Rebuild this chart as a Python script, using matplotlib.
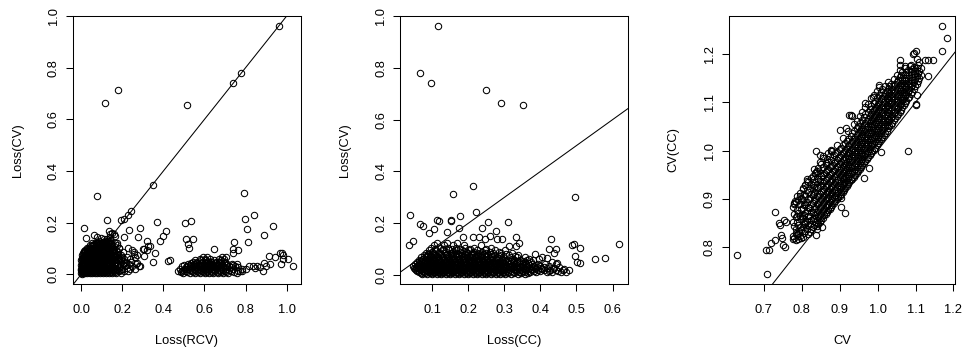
import matplotlib
matplotlib.use('Agg')
from matplotlib import pyplot as plt
from matplotlib.ticker import FormatStrFormatter

plt.rcParams['font.family'] = ['Liberation Sans', 'DejaVu Sans']

# ---------------- Panel 1: Loss(RCV) vs Loss(CV) ----------------
# scattered points
rcv_loss = [0.964, 0.777, 0.739, 0.179, 0.117, 0.513, 0.350, 0.077, 0.795, 0.124, 0.194, 0.210,
            0.228, 0.244, 0.016, 0.371, 0.503, 0.533, 0.796, 0.839, 0.805, 0.810, 0.888, 0.932,
            0.412, 0.397, 0.386, 0.285, 0.233, 0.023, 0.064, 0.075, 0.134, 0.277, 0.208, 0.511,
            0.546, 0.518, 0.526, 0.337, 0.324, 0.320, 0.308, 0.357, 0.349, 0.423, 0.433, 0.744,
            0.647, 0.741, 0.762, 0.739, 0.914, 0.943, 0.969, 0.977, 0.982, 1.005, 0.980, 0.974,
            1.029, 0.891, 0.883, 0.858, 0.918, 0.900, 0.764, 0.785, 0.816, 0.834, 0.301, 0.320,
            0.308, 0.288, 0.272, 0.264, 0.256, 0.003, 0.760, 0.800, 0.845, 0.870, 0.158, 0.165,
            0.172, 0.182, 0.150, 0.141]
cv_loss_a = [0.963, 0.780, 0.741, 0.713, 0.664, 0.657, 0.345, 0.303, 0.314, 0.209, 0.210, 0.213,
             0.229, 0.246, 0.179, 0.204, 0.197, 0.205, 0.213, 0.229, 0.175, 0.125, 0.153, 0.188,
             0.168, 0.148, 0.130, 0.179, 0.171, 0.142, 0.151, 0.146, 0.168, 0.144, 0.146, 0.138,
             0.135, 0.117, 0.103, 0.110, 0.110, 0.129, 0.098, 0.081, 0.049, 0.052, 0.054, 0.125,
             0.099, 0.097, 0.094, 0.081, 0.070, 0.067, 0.084, 0.084, 0.073, 0.061, 0.061, 0.039,
             0.032, 0.045, 0.013, 0.032, 0.041, 0.032, 0.013, 0.013, 0.032, 0.032, 0.099, 0.094,
             0.071, 0.032, 0.045, 0.067, 0.077, 0.001, 0.040, 0.020, 0.025, 0.030, 0.158, 0.150,
             0.121, 0.102, 0.160, 0.155]
# dense clusters, read row by row (one Loss(CV) level, many Loss(RCV) values)
p1_row_y = [0.004, 0.013, 0.022, 0.031, 0.040, 0.049, 0.058, 0.067, 0.076, 0.085, 0.094,
            0.103, 0.112, 0.121, 0.131, 0.141,
            0.008, 0.017, 0.026, 0.035, 0.045, 0.054, 0.063, 0.072, 0.081, 0.090, 0.099,
            0.108, 0.117, 0.126, 0.136,
            0.004, 0.013, 0.022, 0.031, 0.040, 0.049, 0.058, 0.067,
            0.009, 0.018, 0.027, 0.036, 0.045, 0.054]
p1_row_x = [
    [0.0, 0.008, 0.017, 0.028, 0.041, 0.053, 0.066, 0.079, 0.093, 0.108, 0.121, 0.137, 0.152, 0.171, 0.193],
    [0.004, 0.013, 0.024, 0.036, 0.049, 0.061, 0.074, 0.088, 0.101, 0.115, 0.129, 0.144, 0.162, 0.183, 0.207, 0.226],
    [0.0, 0.009, 0.019, 0.031, 0.044, 0.057, 0.069, 0.083, 0.097, 0.111, 0.124, 0.139, 0.156, 0.176, 0.199, 0.238, 0.262],
    [0.006, 0.015, 0.026, 0.038, 0.051, 0.063, 0.077, 0.091, 0.104, 0.118, 0.133, 0.148, 0.167, 0.188, 0.214, 0.249, 0.281],
    [0.002, 0.011, 0.022, 0.034, 0.046, 0.059, 0.072, 0.086, 0.099, 0.113, 0.127, 0.142, 0.159, 0.181, 0.203, 0.231, 0.268],
    [0.007, 0.018, 0.030, 0.042, 0.055, 0.068, 0.081, 0.095, 0.108, 0.122, 0.136, 0.151, 0.169, 0.192, 0.219, 0.244],
    [0.003, 0.014, 0.026, 0.039, 0.052, 0.064, 0.078, 0.091, 0.105, 0.119, 0.133, 0.147, 0.163, 0.184, 0.208, 0.236],
    [0.009, 0.021, 0.034, 0.047, 0.060, 0.073, 0.087, 0.101, 0.114, 0.128, 0.143, 0.158, 0.177, 0.199, 0.223],
    [0.004, 0.017, 0.030, 0.043, 0.056, 0.070, 0.084, 0.097, 0.111, 0.125, 0.139, 0.155, 0.172, 0.196, 0.271],
    [0.012, 0.026, 0.040, 0.053, 0.067, 0.081, 0.094, 0.108, 0.122, 0.137, 0.153, 0.178, 0.206, 0.258],
    [0.020, 0.036, 0.050, 0.064, 0.078, 0.092, 0.106, 0.120, 0.134, 0.149, 0.168, 0.247],
    [0.028, 0.047, 0.062, 0.076, 0.090, 0.104, 0.118, 0.133, 0.151, 0.186, 0.229],
    [0.041, 0.059, 0.074, 0.088, 0.103, 0.117, 0.131, 0.148, 0.172],
    [0.055, 0.072, 0.087, 0.101, 0.116, 0.130, 0.144, 0.163],
    [0.085, 0.115, 0.129, 0.142],
    [0.095, 0.138],
    [0.002, 0.012, 0.022, 0.033, 0.046, 0.058, 0.071, 0.085, 0.099, 0.113, 0.128, 0.145, 0.164],
    [0.0, 0.010, 0.020, 0.031, 0.043, 0.055, 0.068, 0.081, 0.094, 0.108, 0.122, 0.137, 0.153, 0.172, 0.194],
    [0.004, 0.014, 0.025, 0.037, 0.049, 0.062, 0.075, 0.088, 0.102, 0.116, 0.131, 0.146, 0.163, 0.224],
    [0.001, 0.010, 0.021, 0.032, 0.045, 0.057, 0.070, 0.083, 0.097, 0.111, 0.125, 0.141, 0.158, 0.178, 0.205],
    [0.005, 0.016, 0.027, 0.039, 0.052, 0.065, 0.078, 0.092, 0.106, 0.120, 0.134, 0.149, 0.166, 0.210],
    [0.001, 0.011, 0.022, 0.034, 0.047, 0.060, 0.073, 0.087, 0.101, 0.115, 0.129, 0.144, 0.160, 0.196],
    [0.006, 0.017, 0.029, 0.042, 0.055, 0.068, 0.082, 0.096, 0.109, 0.123, 0.138, 0.152, 0.185],
    [0.012, 0.024, 0.037, 0.050, 0.064, 0.077, 0.091, 0.105, 0.118, 0.132, 0.147, 0.165],
    [0.008, 0.021, 0.034, 0.047, 0.061, 0.074, 0.088, 0.102, 0.116, 0.130, 0.145, 0.160],
    [0.016, 0.030, 0.044, 0.058, 0.071, 0.085, 0.099, 0.113, 0.127, 0.142, 0.158],
    [0.026, 0.041, 0.056, 0.070, 0.084, 0.098, 0.112, 0.127, 0.141],
    [0.050, 0.066, 0.081, 0.096, 0.110, 0.125, 0.140, 0.160],
    [0.064, 0.079, 0.094, 0.109, 0.123, 0.138],
    [0.077, 0.108, 0.122, 0.136],
    [0.110, 0.126],
    [0.497, 0.528, 0.556, 0.579, 0.601, 0.622, 0.641, 0.664, 0.688, 0.716, 0.758],
    [0.472, 0.489, 0.512, 0.538, 0.566, 0.588, 0.611, 0.632, 0.653, 0.675, 0.699, 0.728, 0.772],
    [0.481, 0.503, 0.523, 0.547, 0.571, 0.594, 0.617, 0.637, 0.658, 0.681, 0.706, 0.739, 0.781],
    [0.493, 0.514, 0.533, 0.558, 0.583, 0.606, 0.627, 0.646, 0.668, 0.692, 0.719, 0.749],
    [0.521, 0.548, 0.574, 0.597, 0.618, 0.639, 0.661, 0.684, 0.711, 0.733],
    [0.542, 0.563, 0.589, 0.612, 0.634, 0.655, 0.678, 0.702],
    [0.576, 0.602, 0.627, 0.671, 0.694],
    [0.592, 0.613, 0.686, 0.703],
    [0.485, 0.516, 0.545, 0.569, 0.592, 0.614, 0.636, 0.659, 0.681, 0.705, 0.742],
    [0.497, 0.528, 0.553, 0.578, 0.601, 0.624, 0.646, 0.669, 0.692, 0.721],
    [0.509, 0.538, 0.562, 0.587, 0.611, 0.632, 0.652, 0.675, 0.698, 0.731, 0.762],
    [0.502, 0.529, 0.553, 0.577, 0.599, 0.621, 0.643, 0.666, 0.704, 0.740],
    [0.536, 0.561, 0.584, 0.607, 0.629, 0.651, 0.673, 0.697],
    [0.553, 0.583, 0.606, 0.646, 0.683],
]

# ---------------- Panel 2: Loss(CC) vs Loss(CV) ----------------
cc_loss = [0.116, 0.065, 0.098, 0.249, 0.290, 0.352, 0.214, 0.158, 0.497, 0.039, 0.222, 0.178,
           0.112, 0.118, 0.151, 0.152, 0.066, 0.074, 0.175, 0.310, 0.256, 0.237, 0.278, 0.106,
           0.091, 0.140, 0.035, 0.046, 0.186, 0.212, 0.230, 0.246, 0.261, 0.280, 0.294, 0.333,
           0.340, 0.333, 0.313, 0.488, 0.492, 0.510, 0.497, 0.501, 0.510, 0.552, 0.578, 0.619,
           0.430, 0.423, 0.443, 0.437, 0.418, 0.478, 0.466, 0.452, 0.447, 0.405, 0.395, 0.386]
cv_loss_b = [0.963, 0.780, 0.741, 0.713, 0.664, 0.656, 0.344, 0.313, 0.303, 0.232, 0.245, 0.229,
             0.213, 0.209, 0.213, 0.209, 0.197, 0.191, 0.180, 0.206, 0.205, 0.180, 0.171, 0.177,
             0.164, 0.168, 0.116, 0.133, 0.146, 0.146, 0.146, 0.138, 0.151, 0.139, 0.139, 0.148,
             0.125, 0.112, 0.112, 0.116, 0.122, 0.103, 0.075, 0.052, 0.045, 0.062, 0.067, 0.122,
             0.138, 0.100, 0.099, 0.084, 0.065, 0.019, 0.024, 0.030, 0.048, 0.070, 0.064, 0.080]
p2_row_y = [0.004, 0.012, 0.020, 0.028, 0.036, 0.044, 0.052, 0.060, 0.069, 0.078, 0.087,
            0.096, 0.105, 0.115, 0.125,
            0.008, 0.016, 0.024, 0.032, 0.040, 0.048, 0.056, 0.064, 0.073, 0.082, 0.091, 0.100]
p2_row_x = [
    [0.072, 0.086, 0.099, 0.112, 0.124, 0.137, 0.149, 0.162, 0.174, 0.187, 0.199, 0.212, 0.224, 0.237, 0.249,
     0.262, 0.276, 0.289, 0.303, 0.318, 0.337, 0.358],
    [0.063, 0.078, 0.091, 0.104, 0.117, 0.129, 0.142, 0.155, 0.167, 0.180, 0.193, 0.205, 0.218, 0.231, 0.243,
     0.256, 0.269, 0.283, 0.296, 0.311, 0.326, 0.342, 0.357, 0.372, 0.389, 0.418, 0.431, 0.456, 0.472],
    [0.055, 0.068, 0.082, 0.095, 0.108, 0.121, 0.133, 0.146, 0.159, 0.171, 0.184, 0.197, 0.209, 0.222, 0.235,
     0.247, 0.260, 0.273, 0.287, 0.300, 0.314, 0.329, 0.345, 0.361, 0.377, 0.394, 0.409, 0.427, 0.444, 0.463],
    [0.049, 0.061, 0.074, 0.088, 0.101, 0.114, 0.126, 0.139, 0.152, 0.164, 0.177, 0.190, 0.202, 0.215, 0.228,
     0.240, 0.253, 0.266, 0.279, 0.292, 0.306, 0.321, 0.336, 0.352, 0.368, 0.384, 0.401, 0.419, 0.437],
    [0.046, 0.058, 0.071, 0.084, 0.097, 0.110, 0.123, 0.135, 0.148, 0.161, 0.173, 0.186, 0.199, 0.211, 0.224,
     0.237, 0.250, 0.263, 0.276, 0.289, 0.303, 0.318, 0.333, 0.348, 0.364, 0.381, 0.398, 0.424],
    [0.052, 0.066, 0.079, 0.092, 0.105, 0.118, 0.130, 0.143, 0.156, 0.168, 0.181, 0.194, 0.206, 0.219, 0.232,
     0.245, 0.258, 0.271, 0.285, 0.298, 0.313, 0.328, 0.343, 0.359, 0.376, 0.393, 0.413, 0.442],
    [0.058, 0.072, 0.086, 0.099, 0.112, 0.125, 0.138, 0.151, 0.164, 0.176, 0.189, 0.202, 0.215, 0.227, 0.240,
     0.254, 0.268, 0.282, 0.296, 0.311, 0.326, 0.342, 0.358, 0.374, 0.431],
    [0.064, 0.079, 0.093, 0.106, 0.120, 0.133, 0.146, 0.159, 0.172, 0.185, 0.198, 0.211, 0.224, 0.237, 0.251,
     0.265, 0.279, 0.294, 0.310, 0.327, 0.344, 0.362, 0.379],
    [0.070, 0.086, 0.101, 0.115, 0.129, 0.142, 0.156, 0.169, 0.182, 0.196, 0.209, 0.222, 0.236, 0.250, 0.264,
     0.280, 0.297, 0.316, 0.336, 0.357],
    [0.077, 0.094, 0.109, 0.124, 0.139, 0.153, 0.167, 0.181, 0.195, 0.209, 0.223, 0.238, 0.254, 0.271, 0.291,
     0.314, 0.339],
    [0.084, 0.102, 0.119, 0.135, 0.151, 0.166, 0.182, 0.198, 0.214, 0.231, 0.249, 0.268, 0.290, 0.322],
    [0.091, 0.110, 0.129, 0.147, 0.165, 0.184, 0.203, 0.224, 0.246, 0.273, 0.301],
    [0.098, 0.121, 0.143, 0.166, 0.191, 0.217, 0.262],
    [0.104, 0.132, 0.158, 0.188, 0.236],
    [0.113, 0.141, 0.169],
    [0.068, 0.081, 0.093, 0.106, 0.118, 0.131, 0.143, 0.156, 0.168, 0.181, 0.193, 0.206, 0.218, 0.231, 0.243,
     0.256, 0.269, 0.282, 0.296, 0.310, 0.326, 0.347, 0.367],
    [0.059, 0.072, 0.085, 0.098, 0.111, 0.123, 0.136, 0.149, 0.161, 0.174, 0.187, 0.199, 0.212, 0.225, 0.237,
     0.250, 0.263, 0.276, 0.290, 0.304, 0.318, 0.334, 0.350, 0.365, 0.381, 0.399, 0.425, 0.449],
    [0.052, 0.065, 0.078, 0.091, 0.104, 0.117, 0.130, 0.142, 0.155, 0.168, 0.180, 0.193, 0.206, 0.218, 0.231,
     0.244, 0.257, 0.270, 0.283, 0.297, 0.311, 0.326, 0.341, 0.357, 0.373, 0.389, 0.405, 0.436],
    [0.054, 0.067, 0.080, 0.093, 0.106, 0.119, 0.131, 0.144, 0.157, 0.169, 0.182, 0.195, 0.208, 0.220, 0.233,
     0.246, 0.259, 0.272, 0.285, 0.299, 0.313, 0.328, 0.343, 0.359, 0.376, 0.392, 0.411],
    [0.060, 0.073, 0.086, 0.099, 0.112, 0.125, 0.138, 0.150, 0.163, 0.176, 0.188, 0.201, 0.214, 0.227, 0.240,
     0.253, 0.266, 0.279, 0.292, 0.306, 0.321, 0.336, 0.352, 0.369, 0.386],
    [0.063, 0.077, 0.090, 0.103, 0.116, 0.129, 0.142, 0.155, 0.168, 0.181, 0.194, 0.207, 0.220, 0.233, 0.247,
     0.261, 0.275, 0.289, 0.303, 0.319, 0.335, 0.351, 0.367],
    [0.068, 0.083, 0.097, 0.110, 0.123, 0.137, 0.150, 0.163, 0.176, 0.190, 0.203, 0.216, 0.230, 0.244, 0.258,
     0.272, 0.287, 0.303, 0.319, 0.336, 0.353],
    [0.075, 0.090, 0.105, 0.119, 0.133, 0.147, 0.161, 0.175, 0.189, 0.203, 0.216, 0.230, 0.245, 0.260, 0.276,
     0.293, 0.321, 0.368],
    [0.082, 0.098, 0.113, 0.128, 0.143, 0.158, 0.173, 0.188, 0.203, 0.218, 0.233, 0.249, 0.266, 0.286, 0.330],
    [0.089, 0.106, 0.123, 0.140, 0.157, 0.174, 0.191, 0.208, 0.226, 0.244, 0.263, 0.306],
    [0.100, 0.119, 0.138, 0.157, 0.176, 0.195, 0.215, 0.237, 0.259, 0.285],
    [0.108, 0.131, 0.154, 0.178, 0.204, 0.248],
]

# ---------------- Panel 3: CV vs CV(CC) ----------------
cv = [0.630, 0.710, 0.706, 0.713, 0.719, 0.731, 0.731, 0.741, 0.753, 0.760, 0.746, 0.748,
      0.751, 0.756, 0.780, 0.787, 0.785, 0.778, 0.791, 0.794, 0.802, 0.809, 0.810, 0.837,
      0.837, 0.853, 0.838, 0.841, 0.880, 0.855, 0.865, 0.905, 0.905, 0.903, 0.913, 0.932,
      0.964, 0.977, 1.009, 1.079, 1.101, 1.133, 1.147, 1.169, 1.182, 1.169, 1.126, 1.101,
      1.095, 1.058, 1.073, 1.085, 0.848, 0.834, 0.813, 0.804, 0.795, 0.782, 0.743, 0.878,
      0.918, 0.900, 0.925, 1.132, 1.094, 1.059, 1.105, 1.101, 0.987, 0.966, 0.931, 1.005]
cv_cc = [0.783, 0.744, 0.793, 0.793, 0.808, 0.814, 0.873, 0.850, 0.857, 0.852, 0.826, 0.818,
         0.805, 0.801, 0.891, 0.864, 0.829, 0.817, 0.817, 0.833, 0.864, 0.848, 0.929, 1.000,
         0.955, 0.841, 0.825, 0.837, 1.000, 0.988, 0.975, 0.915, 0.901, 0.883, 0.870, 1.071,
         0.943, 0.964, 0.998, 1.000, 1.097, 1.154, 1.187, 1.259, 1.233, 1.207, 1.187, 1.207,
         1.202, 1.188, 1.175, 1.175, 0.991, 0.953, 0.936, 0.922, 0.905, 0.895, 0.846, 1.002,
         1.047, 1.043, 1.074, 1.188, 1.200, 1.178, 1.116, 1.095, 1.112, 1.098, 1.074, 1.136]
# dense band, read column by column (one CV value, several CV(CC) values)
p3_col_x = [0.776, 0.784, 0.791, 0.799, 0.806, 0.814, 0.821, 0.829, 0.836, 0.844, 0.851, 0.859,
            0.866, 0.874, 0.881, 0.889, 0.896, 0.904, 0.911, 0.919, 0.926, 0.934, 0.941, 0.949,
            0.956, 0.964, 0.971, 0.979, 0.986, 0.994, 1.001, 1.009, 1.016, 1.024, 1.031, 1.039,
            1.046, 1.054, 1.061, 1.069, 1.076, 1.084, 1.091, 1.099, 1.106, 1.114,
            0.780, 0.788, 0.795, 0.803, 0.810, 0.818, 0.825, 0.833, 0.840, 0.848, 0.855, 0.863,
            0.870, 0.878, 0.885, 0.893, 0.900, 0.908, 0.915, 0.923, 0.930, 0.938, 0.945, 0.953,
            0.960, 0.968, 0.975, 0.983, 0.990, 0.998, 1.005, 1.013, 1.020, 1.028, 1.035, 1.043,
            1.050, 1.058, 1.065, 1.073, 1.080, 1.088, 1.095, 1.103, 1.110]
p3_col_y = [
    [0.822, 0.851, 0.884], [0.815, 0.838, 0.862, 0.893], [0.827, 0.846, 0.871, 0.898],
    [0.818, 0.836, 0.858, 0.879, 0.902], [0.829, 0.849, 0.866, 0.887, 0.911],
    [0.838, 0.855, 0.874, 0.893, 0.919, 0.941], [0.831, 0.847, 0.864, 0.882, 0.901, 0.923],
    [0.842, 0.858, 0.873, 0.891, 0.908, 0.929, 0.948], [0.851, 0.866, 0.881, 0.898, 0.915, 0.934],
    [0.847, 0.862, 0.876, 0.891, 0.906, 0.922, 0.941, 0.963],
    [0.856, 0.871, 0.885, 0.899, 0.914, 0.929, 0.947, 0.972],
    [0.866, 0.879, 0.893, 0.907, 0.921, 0.936, 0.953],
    [0.873, 0.887, 0.901, 0.914, 0.928, 0.943, 0.959, 0.982],
    [0.879, 0.893, 0.906, 0.920, 0.934, 0.949, 0.965, 0.988],
    [0.888, 0.901, 0.914, 0.927, 0.941, 0.955, 0.971],
    [0.895, 0.908, 0.921, 0.934, 0.948, 0.962, 0.977, 0.996],
    [0.904, 0.917, 0.929, 0.942, 0.955, 0.969, 0.984],
    [0.911, 0.924, 0.937, 0.950, 0.963, 0.976, 0.990, 1.006],
    [0.919, 0.932, 0.944, 0.957, 0.970, 0.983, 0.997],
    [0.927, 0.939, 0.952, 0.964, 0.977, 0.990, 1.004, 1.019],
    [0.934, 0.947, 0.959, 0.972, 0.985, 0.998, 1.012],
    [0.942, 0.955, 0.967, 0.980, 0.993, 1.006, 1.020, 1.036],
    [0.949, 0.962, 0.975, 0.988, 1.001, 1.014, 1.028],
    [0.958, 0.971, 0.984, 0.997, 1.010, 1.023, 1.037, 1.052],
    [0.966, 0.979, 0.992, 1.005, 1.018, 1.031, 1.045],
    [0.975, 0.988, 1.001, 1.014, 1.027, 1.040, 1.054, 1.069],
    [0.983, 0.996, 1.009, 1.022, 1.035, 1.048, 1.062],
    [0.991, 1.004, 1.017, 1.030, 1.043, 1.057, 1.071, 1.086],
    [1.000, 1.013, 1.026, 1.039, 1.052, 1.066, 1.080],
    [1.006, 1.020, 1.033, 1.046, 1.059, 1.073, 1.088, 1.103],
    [1.016, 1.029, 1.042, 1.055, 1.068, 1.082, 1.096],
    [1.024, 1.037, 1.050, 1.063, 1.077, 1.091, 1.106, 1.121],
    [1.033, 1.046, 1.059, 1.072, 1.086, 1.100, 1.114],
    [1.041, 1.054, 1.067, 1.081, 1.095, 1.109, 1.124],
    [1.050, 1.063, 1.077, 1.091, 1.105, 1.119, 1.133],
    [1.058, 1.072, 1.086, 1.100, 1.114, 1.128],
    [1.067, 1.081, 1.095, 1.109, 1.123, 1.138],
    [1.076, 1.090, 1.104, 1.118, 1.132, 1.146],
    [1.085, 1.099, 1.113, 1.127, 1.141, 1.157],
    [1.094, 1.108, 1.122, 1.136, 1.151],
    [1.103, 1.117, 1.131, 1.146, 1.163],
    [1.112, 1.126, 1.141, 1.157], [1.121, 1.136, 1.152, 1.169],
    [1.133, 1.149, 1.166], [1.144, 1.161, 1.178], [1.156, 1.172],
    [0.819, 0.843, 0.868, 0.889], [0.827, 0.851, 0.876, 0.905],
    [0.823, 0.841, 0.864, 0.889, 0.912], [0.821, 0.842, 0.861, 0.882, 0.897, 0.921],
    [0.833, 0.852, 0.870, 0.889, 0.905, 0.928], [0.827, 0.846, 0.864, 0.883, 0.900, 0.915, 0.935],
    [0.838, 0.856, 0.872, 0.889, 0.910, 0.931, 0.944],
    [0.845, 0.861, 0.878, 0.895, 0.911, 0.925, 0.942, 0.961],
    [0.843, 0.857, 0.873, 0.889, 0.906, 0.924, 0.943, 0.958],
    [0.851, 0.866, 0.880, 0.895, 0.911, 0.926, 0.936, 0.954, 0.976],
    [0.861, 0.875, 0.889, 0.903, 0.917, 0.932, 0.950, 0.966, 0.985],
    [0.869, 0.883, 0.897, 0.911, 0.924, 0.939, 0.956, 0.971],
    [0.876, 0.890, 0.903, 0.917, 0.931, 0.946, 0.962, 0.976, 0.995],
    [0.884, 0.897, 0.910, 0.924, 0.937, 0.952, 0.968, 0.981, 1.000],
    [0.891, 0.904, 0.918, 0.931, 0.945, 0.958, 0.974, 0.990],
    [0.899, 0.912, 0.925, 0.938, 0.952, 0.966, 0.981, 0.998, 1.012],
    [0.906, 0.920, 0.933, 0.946, 0.959, 0.973, 0.987, 1.003],
    [0.915, 0.928, 0.941, 0.954, 0.967, 0.980, 0.994, 1.011, 1.027],
    [0.922, 0.935, 0.948, 0.961, 0.974, 0.987, 1.001, 1.016],
    [0.930, 0.943, 0.956, 0.969, 0.982, 0.995, 1.009, 1.025, 1.041],
    [0.938, 0.951, 0.963, 0.976, 0.989, 1.002, 1.016, 1.031],
    [0.945, 0.958, 0.971, 0.984, 0.997, 1.010, 1.024, 1.041, 1.055],
    [0.953, 0.966, 0.979, 0.992, 1.005, 1.018, 1.032, 1.046, 1.061],
    [0.962, 0.975, 0.988, 1.001, 1.014, 1.027, 1.041, 1.058, 1.072],
    [0.970, 0.983, 0.996, 1.009, 1.022, 1.035, 1.049, 1.064, 1.079],
    [0.978, 0.992, 1.005, 1.018, 1.031, 1.044, 1.058, 1.075, 1.090],
    [0.986, 1.000, 1.013, 1.026, 1.039, 1.052, 1.066, 1.081, 1.097],
    [0.995, 1.009, 1.022, 1.035, 1.048, 1.061, 1.076, 1.092, 1.108],
    [1.002, 1.016, 1.029, 1.042, 1.055, 1.069, 1.084, 1.099, 1.116],
    [1.011, 1.025, 1.038, 1.051, 1.064, 1.078, 1.092, 1.109, 1.124],
    [1.020, 1.033, 1.046, 1.059, 1.072, 1.086, 1.101, 1.115, 1.131],
    [1.029, 1.042, 1.055, 1.068, 1.081, 1.095, 1.110, 1.127],
    [1.037, 1.050, 1.063, 1.076, 1.090, 1.104, 1.119, 1.134],
    [1.046, 1.059, 1.072, 1.086, 1.100, 1.114, 1.128, 1.142],
    [1.054, 1.068, 1.082, 1.096, 1.110, 1.124, 1.139],
    [1.063, 1.077, 1.091, 1.105, 1.119, 1.133, 1.148],
    [1.072, 1.086, 1.100, 1.114, 1.128, 1.142, 1.156],
    [1.081, 1.095, 1.109, 1.123, 1.137, 1.152, 1.168],
    [1.090, 1.104, 1.118, 1.132, 1.147, 1.162],
    [1.099, 1.113, 1.127, 1.141, 1.156, 1.171],
    [1.108, 1.122, 1.136, 1.151, 1.167],
    [1.117, 1.131, 1.146, 1.162, 1.178],
    [1.127, 1.142, 1.158, 1.174],
    [1.139, 1.155, 1.171, 1.189],
    [1.150, 1.166, 1.183],
]


def expand(levels, groups, levels_are_y=True):
    xs, ys = [], []
    for lev, grp in zip(levels, groups):
        for v in grp:
            if levels_are_y:
                xs.append(v)
                ys.append(lev)
            else:
                xs.append(lev)
                ys.append(v)
    return xs, ys


def r_range(v):
    # R's default 4% axis extension
    lo, hi = min(v), max(v)
    pad = 0.04 * (hi - lo)
    return lo - pad, hi + pad


dx, dy = expand(p1_row_y, p1_row_x)
x1, y1 = rcv_loss + dx, cv_loss_a + dy
dx, dy = expand(p2_row_y, p2_row_x)
x2, y2 = cc_loss + dx, cv_loss_b + dy
dx, dy = expand(p3_col_x, p3_col_y, levels_are_y=False)
x3, y3 = cv + dx, cv_cc + dy

fig = plt.figure(figsize=(9.67, 3.54), dpi=100)
ax1 = fig.add_axes([0.0752, 0.1977, 0.2361, 0.7579])
ax2 = fig.add_axes([0.4140, 0.1977, 0.2352, 0.7579])
ax3 = fig.add_axes([0.7536, 0.1977, 0.2340, 0.7579])

panels = [
    (ax1, x1, y1, 'Loss(RCV)', 'Loss(CV)', [0, 0.2, 0.4, 0.6, 0.8, 1.0], [0, 0.2, 0.4, 0.6, 0.8, 1.0]),
    (ax2, x2, y2, 'Loss(CC)', 'Loss(CV)', [0.1, 0.2, 0.3, 0.4, 0.5, 0.6], [0, 0.2, 0.4, 0.6, 0.8, 1.0]),
    (ax3, x3, y3, 'CV', 'CV(CC)', [0.7, 0.8, 0.9, 1.0, 1.1, 1.2], [0.8, 0.9, 1.0, 1.1, 1.2]),
]

for ax, x, y, xlab, ylab, xt, yt in panels:
    ax.plot(x, y, 'o', mfc='none', mec='black', ms=4.6, mew=0.75, linestyle='none')
    ax.axline((0, 0), (1, 1), color='black', lw=0.75)
    ax.set_xlim(r_range(x))
    ax.set_ylim(r_range(y))
    ax.set_xticks(xt)
    ax.set_yticks(yt)
    ax.xaxis.set_major_formatter(FormatStrFormatter('%.1f'))
    ax.yaxis.set_major_formatter(FormatStrFormatter('%.1f'))
    for s in ax.spines.values():
        s.set_linewidth(0.75)
    ax.tick_params(direction='out', length=5.3, width=0.75, labelsize=9.3)
    ax.tick_params(axis='x', pad=9.0)
    ax.tick_params(axis='y', pad=4.2)
    plt.setp(ax.get_yticklabels(), rotation=90, va='center')
    ax.annotate(xlab, xy=(0.5, 0), xycoords='axes fraction', xytext=(0, -41.3),
                textcoords='offset points', ha='center', va='center', fontsize=9.3)
    ax.annotate(ylab, xy=(0, 0.5), xycoords='axes fraction', xytext=(-39.6, 0),
                textcoords='offset points', ha='center', va='center', rotation=90, fontsize=9.3)

plt.savefig('out.png', dpi=100)
